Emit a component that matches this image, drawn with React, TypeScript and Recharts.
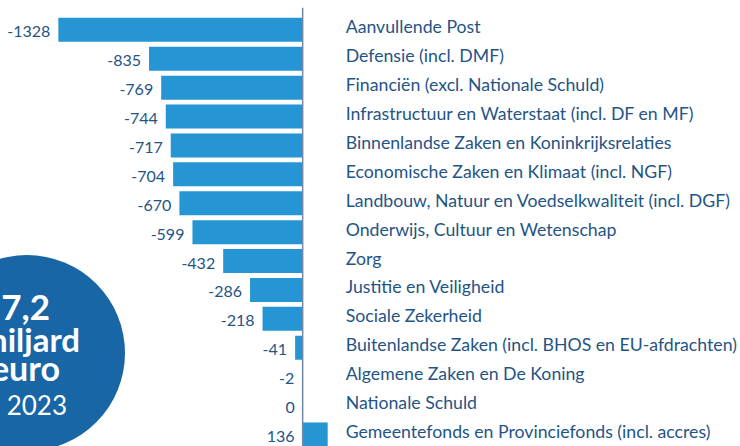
import React from "react";
import { BarChart, Bar, XAxis, YAxis, ReferenceLine, LabelList } from "recharts";

const categories = [
  "Aanvullende Post",
  "Defensie (incl. DMF)",
  "Financiën (excl. Nationale Schuld)",
  "Infrastructuur en Waterstaat (incl. DF en MF)",
  "Binnenlandse Zaken en Koninkrijksrelaties",
  "Economische Zaken en Klimaat (incl. NGF)",
  "Landbouw, Natuur en Voedselkwaliteit (incl. DGF)",
  "Onderwijs, Cultuur en Wetenschap",
  "Zorg",
  "Justitie en Veiligheid",
  "Sociale Zekerheid",
  "Buitenlandse Zaken (incl. BHOS en EU-afdrachten)",
  "Algemene Zaken en De Koning",
  "Nationale Schuld",
  "Gemeentefonds en Provinciefonds (incl. accres)",
];
const values = [-1328, -835, -769, -744, -717, -704, -670, -599, -432, -286, -218, -41, -2, 0, 136];
const circleLines = ["-7,2", "miljard", "euro", "in 2023"];

const data = categories.map((name, i) => ({ name, value: values[i] }));

const BAR = "#2596d3";
const TEXT = "#1f5486";
const CIRCLE = "#1866a6";
const FONT = "Lato, 'Noto Sans', sans-serif";

const ValueLabel = (p: any) => {
  const x = Number(p.x), w = Number(p.width);
  const left = Math.min(x, x + w);
  const cy = Number(p.y) + Number(p.height) / 2;
  return (
    <text x={left - 8} y={cy + 1} textAnchor="end" dominantBaseline="central" fill={TEXT} fontSize={16} fontFamily={FONT}>
      {p.value}
    </text>
  );
};

const NameLabel = (p: any) => {
  const raw = String(p.value);
  const sep = raw.lastIndexOf("|");
  const name = raw.slice(0, sep);
  const positive = raw.slice(sep + 1) === "p";
  const x = Number(p.x), w = Number(p.width);
  const x0 = positive ? Math.min(x, x + w) : Math.max(x, x + w);
  const cy = Number(p.y) + Number(p.height) / 2;
  return (
    <text x={x0 + 43} y={cy - 3} textAnchor="start" dominantBaseline="central" fill={TEXT} fontSize={17.7} fontFamily={FONT}>
      {name}
    </text>
  );
};

const nameKey = (d: any) => `${d.name}|${d.value > 0 ? "p" : "n"}`;

const ZeroLine = (p: any) => (
  <line x1={p.x1} x2={p.x2} y1={Math.min(p.y1, p.y2) - 8} y2={Math.max(p.y1, p.y2)} stroke="#6f8aa6" strokeWidth={1.5} />
);

export default function App() {
  return (
    <div style={{ position: "absolute", left: 0, top: 0, width: 740, height: 446, overflow: "hidden", background: "#fff" }}>
      <BarChart
        width={740}
        height={452}
        data={data}
        layout="vertical"
        margin={{ top: 15.85, right: 0, bottom: 2.65, left: 0 }}
        barSize={24}
      >
        <XAxis type="number" domain={[-1645, 2377]} hide allowDataOverflow />
        <YAxis type="category" dataKey="name" hide width={0} />
        <Bar dataKey="value" fill={BAR} isAnimationActive={false} minPointSize={0.01}>
          <LabelList dataKey="value" content={ValueLabel} />
          <LabelList dataKey={nameKey} content={NameLabel} />
        </Bar>
        <ReferenceLine x={0} shape={ZeroLine} ifOverflow="visible" />
      </BarChart>
      <svg width={740} height={446} style={{ position: "absolute", left: 0, top: 0, pointerEvents: "none" }}>
        <circle cx={27} cy={353} r={98} fill={CIRCLE} />
        <text x={50} y={320} textAnchor="end" fill="#fff" fontSize={35} fontWeight={700} fontFamily={FONT}>{circleLines[0]}</text>
        <text x={80} y={352} textAnchor="end" fill="#fff" fontSize={33} fontWeight={700} fontFamily={FONT}>{circleLines[1]}</text>
        <text x={60} y={381} textAnchor="end" fill="#fff" fontSize={34} fontWeight={700} fontFamily={FONT}>{circleLines[2]}</text>
        <text x={67} y={415} textAnchor="end" fill="#fff" fontSize={26} fontFamily={FONT}>{circleLines[3]}</text>
      </svg>
    </div>
  );
}
